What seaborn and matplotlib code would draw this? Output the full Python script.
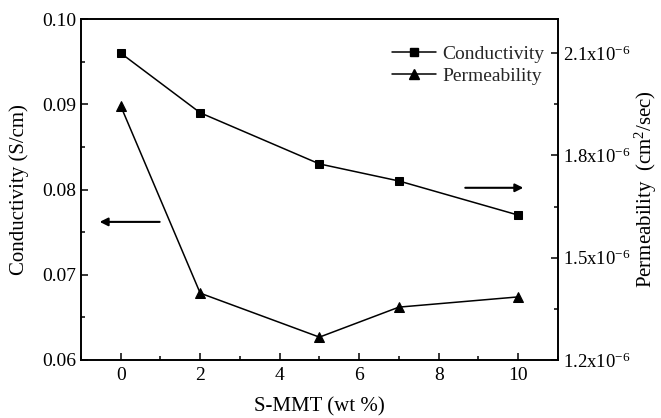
import matplotlib
matplotlib.use("Agg")
import matplotlib.pyplot as plt
import seaborn as sns
import pandas as pd
from matplotlib.ticker import FixedLocator, FuncFormatter, MultipleLocator
from matplotlib.lines import Line2D

sns.set_theme(style="white")
plt.rcParams['font.family'] = ['Liberation Serif', 'DejaVu Serif']
plt.rcParams['mathtext.fontset'] = 'custom'
plt.rcParams['mathtext.rm'] = 'Liberation Serif'
plt.rcParams['mathtext.it'] = 'Liberation Serif:italic'

smmt = [0, 2, 5, 7, 10]
conductivity = [0.096, 0.089, 0.083, 0.081, 0.077]
permeability = [1.945e-6, 1.396e-6, 1.267e-6, 1.355e-6, 1.385e-6]
right_ticks = [1.2e-6, 1.5e-6, 1.8e-6, 2.1e-6]
right_tick_labels = ["1.2x10$^{-6}$", "1.5x10$^{-6}$", "1.8x10$^{-6}$", "2.1x10$^{-6}$"]

df = pd.DataFrame({"smmt": smmt, "cond": conductivity, "perm": permeability})

fig = plt.figure(figsize=(6.61, 4.18), dpi=100)
ax = fig.add_axes([0.1225, 0.1388, 0.7215, 0.8157])
ax2 = ax.twinx()

sns.lineplot(data=df, x="smmt", y="cond", ax=ax, color="black", marker="s",
             markersize=6, linewidth=1.1, markeredgecolor="black", legend=False)
sns.lineplot(data=df, x="smmt", y="perm", ax=ax2, color="black", marker="^",
             markersize=7, linewidth=1.1, markeredgecolor="black", legend=False)

ax.set_xlim(-1, 11)
ax.set_ylim(0.06, 0.10)
ax2.set_ylim(1.2e-6, 2.2e-6)

ax.xaxis.set_major_locator(MultipleLocator(2))
ax.xaxis.set_minor_locator(MultipleLocator(1))
ax.yaxis.set_major_locator(MultipleLocator(0.01))
ax.yaxis.set_minor_locator(MultipleLocator(0.005))
ax.yaxis.set_major_formatter(FuncFormatter(lambda v, p: f"{v:.2f}"))
ax2.yaxis.set_major_locator(FixedLocator(right_ticks))
ax2.yaxis.set_minor_locator(MultipleLocator(0.15e-6))
ax2.set_yticklabels(right_tick_labels)

for a in (ax, ax2):
    for s in a.spines.values():
        s.set_color("black")
        s.set_linewidth(1.2)
ax.tick_params(axis="both", which="both", direction="in", labelsize=14, colors="black", top=False)
ax.tick_params(which="major", length=5, width=1.1)
ax.tick_params(which="minor", length=3, width=1.1)
ax.tick_params(axis="y", which="both", left=True, right=False)
ax.tick_params(axis="x", which="both", bottom=True, pad=5)
ax2.tick_params(axis="y", which="both", direction="in", labelsize=13.5, colors="black", right=True)
ax2.tick_params(which="major", length=5, width=1.1)
ax2.tick_params(which="minor", length=3, width=1.1)

ax.set_xlabel("S-MMT (wt %)", fontsize=15, color="black")
ax.set_ylabel("Conductivity (S/cm)", fontsize=15, color="black")
ax2.set_ylabel("Permeability  (cm$^{2}$/sec)", fontsize=15, color="black")
ax.xaxis.set_label_coords(0.5, -0.108)
ax.yaxis.set_label_coords(-0.109, 0.5)
ax2.yaxis.set_label_coords(1.158, 0.5)

handles = [Line2D([], [], color="black", marker="s", markersize=6, linewidth=1.1),
           Line2D([], [], color="black", marker="^", markersize=7, linewidth=1.1)]
ax.legend(handles, ["Conductivity", "Permeability"], loc="upper right",
          bbox_to_anchor=(1.008, 0.975), frameon=False, fontsize=14,
          handlelength=2.3, handletextpad=0.3, labelspacing=0.25)

ax.annotate("", xy=(-0.6, 0.0762), xytext=(1.05, 0.0762),
            arrowprops=dict(arrowstyle="-|>", color="black", lw=1.5, mutation_scale=12))
ax.annotate("", xy=(10.2, 0.0802), xytext=(8.6, 0.0802),
            arrowprops=dict(arrowstyle="-|>", color="black", lw=1.5, mutation_scale=12))

fig.savefig("out.png", dpi=100)
